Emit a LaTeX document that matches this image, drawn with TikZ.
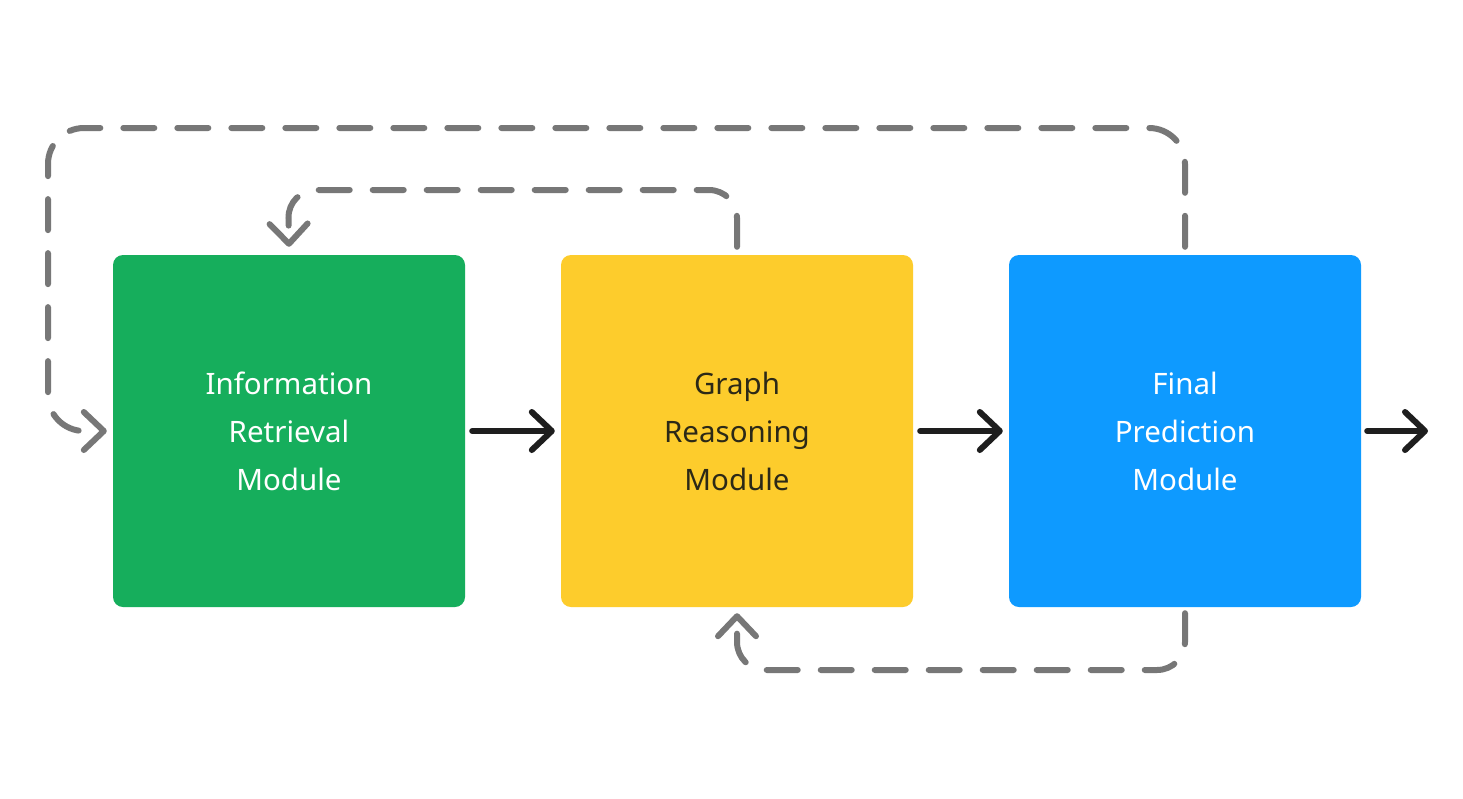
\documentclass[tikz,border=0pt]{standalone}
\usepackage{fontspec}
\setmainfont{Noto Sans}
\usetikzlibrary{arrows.meta}
\definecolor{cgreen}{HTML}{16AE5C}
\definecolor{cyellow}{HTML}{FDCC2C}
\definecolor{cblue}{HTML}{0E9AFF}
\definecolor{cdark}{HTML}{1E1E1E}
\definecolor{cgray}{HTML}{777777}
\definecolor{ctext}{HTML}{2C2917}
\tikzset{
  modbox/.style={minimum width=352pt, minimum height=352pt, rounded corners=10pt,
    align=center, inner sep=0pt, font=\fontsize{29.5}{48}\selectfont},
  flow/.style={draw=cdark, line width=6pt, line cap=round,
    -{Straight Barb[length=20pt,width=38pt,round]}},
  feedback/.style={draw=cgray, line width=6pt, line cap=round,
    dash pattern=on 31pt off 23pt,
    -{Straight Barb[length=20pt,width=38pt,round]}},
}
\begin{document}
\begin{tikzpicture}[x=1pt,y=-1pt]
\useasboundingbox[fill=white] (0,0) rectangle (1463,798);
\node[modbox, fill=cgreen, text=white] (ir) at (289,431) {Information\\Retrieval\\Module};
\node[modbox, fill=cyellow, text=ctext] (gr) at (737,431) {Graph\\Reasoning\\Module};
\node[modbox, fill=cblue, text=white] (fp) at (1185,431) {Final\\Prediction\\Module};
\coordinate (out) at (1428,431);
\coordinate (c1a) at (1185,128);
\coordinate (c1b) at (48,128);
\coordinate (c1c) at (48,431);
\coordinate (c2a) at (737,190);
\coordinate (c2b) at (288,190);
\coordinate (c3a) at (1185,670);
\coordinate (c3b) at (737,670);

\draw[flow, shorten <=7pt, shorten >=6pt] (ir) -- (gr);
\draw[flow, shorten <=7pt, shorten >=6pt] (gr) -- (fp);
\draw[flow, shorten <=6pt] (fp.east) -- (out);

\draw[feedback, rounded corners=36pt] ([yshift=8pt]fp.north) -- (c1a) -- (c1b) -- (c1c) -- ([xshift=-6pt]ir.west);
\draw[feedback, rounded corners=28pt] ([yshift=8pt]gr.north) -- (c2a) -- (c2b) -- ([yshift=8pt]ir.north);
\draw[feedback, rounded corners=28pt] ([yshift=-6pt]fp.south) -- (c3a) -- (c3b) -- ([yshift=-6pt]gr.south);
\end{tikzpicture}
\end{document}
